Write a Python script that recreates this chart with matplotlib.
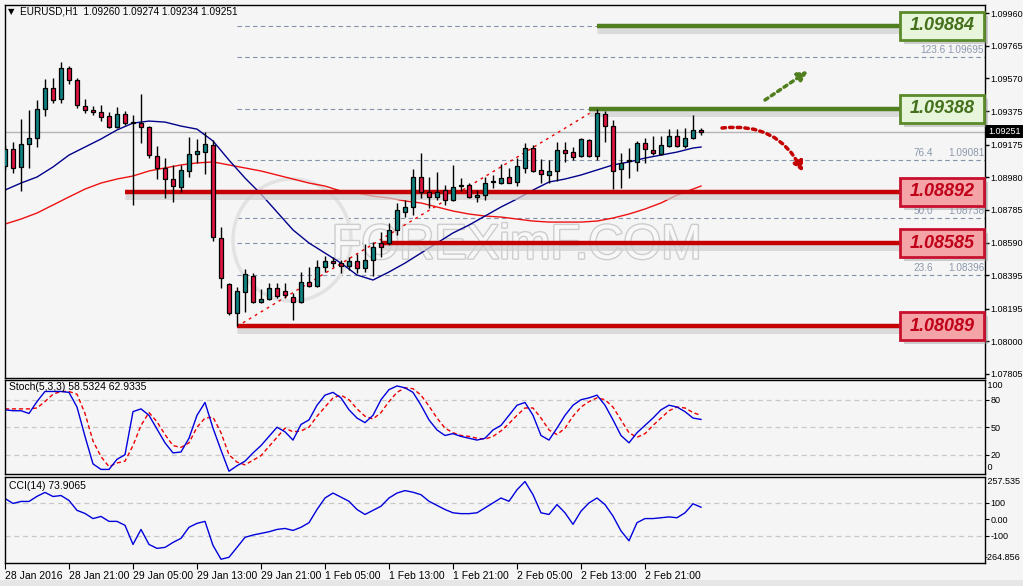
import matplotlib
matplotlib.use('Agg')
import numpy as np
import matplotlib.pyplot as plt
from matplotlib.patches import Rectangle, Ellipse
from matplotlib.transforms import blended_transform_factory
import matplotlib.patheffects as pe

plt.rcParams['font.family'] = ['Liberation Sans', 'DejaVu Sans']

# ---- data ----
opens = [1.09047, 1.09148, 1.09041, 1.09178, 1.09214, 1.09387, 1.09512, 1.09447, 1.09632, 1.09560,
         1.09405, 1.09381, 1.09369, 1.09345, 1.09279, 1.09357, 1.09303, 1.09303, 1.09279, 1.09106,
         1.09035, 1.08969, 1.08921, 1.09017, 1.09118, 1.09130, 1.09172, 1.08617, 1.08342, 1.08169,
         1.08294, 1.08390, 1.08235, 1.08253, 1.08318, 1.08300, 1.08265, 1.08235, 1.08354, 1.08330,
         1.08443, 1.08479, 1.08467, 1.08449, 1.08479, 1.08438, 1.08485, 1.08587, 1.08587, 1.08665,
         1.08772, 1.08802, 1.08981, 1.08891, 1.08862, 1.08903, 1.08844, 1.08927, 1.08933, 1.08862,
         1.08874, 1.08951, 1.08945, 1.08981, 1.08951, 1.09035, 1.09154, 1.09023, 1.08993, 1.09017,
         1.09142, 1.09130, 1.09106, 1.09202, 1.09106, 1.09357, 1.09285, 1.09029, 1.09077, 1.09071,
         1.09184, 1.09142, 1.09118, 1.09166, 1.09226, 1.09166, 1.09214, 1.09260]
highs = [1.09172, 1.09190, 1.09327, 1.09381, 1.09441, 1.09566, 1.09572, 1.09667, 1.09644, 1.09572,
         1.09447, 1.09405, 1.09411, 1.09369, 1.09399, 1.09375, 1.09351, 1.09476, 1.09285, 1.09166,
         1.09094, 1.09053, 1.09053, 1.09220, 1.09208, 1.09250, 1.09202, 1.08682, 1.08348, 1.08324,
         1.08431, 1.08408, 1.08312, 1.08348, 1.08348, 1.08348, 1.08289, 1.08414, 1.08443, 1.08485,
         1.08509, 1.08503, 1.08485, 1.08503, 1.08521, 1.08581, 1.08593, 1.08653, 1.08706, 1.08826,
         1.08844, 1.09029, 1.09124, 1.08981, 1.09011, 1.08933, 1.09053, 1.08975, 1.08945, 1.08903,
         1.08981, 1.08993, 1.09058, 1.09035, 1.09094, 1.09184, 1.09172, 1.09088, 1.09082, 1.09190,
         1.09190, 1.09160, 1.09214, 1.09208, 1.09388, 1.09375, 1.09321, 1.09124, 1.09154, 1.09196,
         1.09214, 1.09226, 1.09226, 1.09267, 1.09267, 1.09273, 1.09351, 1.09274]
lows = [1.09023, 1.09005, 1.08897, 1.09035, 1.09160, 1.09345, 1.09423, 1.09423, 1.09536, 1.09393,
        1.09363, 1.09351, 1.09315, 1.09273, 1.09273, 1.09291, 1.08814, 1.09184, 1.09094, 1.08969,
        1.08856, 1.08832, 1.08891, 1.08981, 1.09065, 1.08999, 1.08599, 1.08318, 1.08157, 1.08089,
        1.08175, 1.08229, 1.08229, 1.08247, 1.08259, 1.08259, 1.08127, 1.08229, 1.08324, 1.08324,
        1.08414, 1.08443, 1.08408, 1.08426, 1.08408, 1.08414, 1.08390, 1.08503, 1.08575, 1.08635,
        1.08742, 1.08754, 1.08856, 1.08796, 1.08844, 1.08814, 1.08838, 1.08897, 1.08856, 1.08832,
        1.08844, 1.08915, 1.08939, 1.08945, 1.08927, 1.09005, 1.09011, 1.08945, 1.08945, 1.08957,
        1.09071, 1.09082, 1.09100, 1.09100, 1.09082, 1.09190, 1.08909, 1.08915, 1.08975, 1.09017,
        1.09065, 1.09112, 1.09112, 1.09160, 1.09160, 1.09154, 1.09208, 1.09234]
closes = [1.09148, 1.09035, 1.09178, 1.09214, 1.09387, 1.09512, 1.09441, 1.09632, 1.09560, 1.09411,
          1.09381, 1.09369, 1.09339, 1.09279, 1.09357, 1.09303, 1.09309, 1.09279, 1.09112, 1.09035,
          1.08969, 1.08927, 1.09023, 1.09118, 1.09136, 1.09178, 1.08623, 1.08378, 1.08169, 1.08300,
          1.08402, 1.08235, 1.08253, 1.08318, 1.08271, 1.08277, 1.08235, 1.08354, 1.08330, 1.08443,
          1.08479, 1.08467, 1.08449, 1.08479, 1.08438, 1.08485, 1.08563, 1.08563, 1.08665, 1.08784,
          1.08802, 1.08981, 1.08891, 1.08862, 1.08891, 1.08844, 1.08921, 1.08929, 1.08862, 1.08874,
          1.08945, 1.08955, 1.08975, 1.08945, 1.09047, 1.09154, 1.09017, 1.08999, 1.09017, 1.09142,
          1.09124, 1.09100, 1.09208, 1.09106, 1.09363, 1.09285, 1.09017, 1.09065, 1.09082, 1.09184,
          1.09148, 1.09124, 1.09172, 1.09226, 1.09166, 1.09214, 1.09262, 1.09251]

ma_bars = list(range(0, 87, 2)) + [87]
ma_fast = [1.08903, 1.08945, 1.08981, 1.09041, 1.09112, 1.09160, 1.09208, 1.09262, 1.09303, 1.09315,
           1.09309, 1.09285, 1.09267, 1.09196, 1.09082, 1.08975, 1.08879, 1.08772, 1.08665, 1.08587,
           1.08527, 1.08467, 1.08396, 1.08366, 1.08414, 1.08467, 1.08527, 1.08587, 1.08647, 1.08694,
           1.08748, 1.08802, 1.08850, 1.08903, 1.08951, 1.08969, 1.08993, 1.09023, 1.09053, 1.09071,
           1.09094, 1.09112, 1.09130, 1.09154, 1.09160]
ma_slow = [1.08700, 1.08730, 1.08766, 1.08814, 1.08862, 1.08909, 1.08945, 1.08969, 1.08987, 1.09017,
           1.09035, 1.09053, 1.09065, 1.09071, 1.09053, 1.09035, 1.09017, 1.08993, 1.08969, 1.08945,
           1.08927, 1.08897, 1.08885, 1.08867, 1.08856, 1.08838, 1.08826, 1.08802, 1.08778, 1.08760,
           1.08748, 1.08742, 1.08730, 1.08718, 1.08712, 1.08712, 1.08712, 1.08718, 1.08736, 1.08760,
           1.08790, 1.08826, 1.08873, 1.08909, 1.08927]

stoch_k = [69, 68, 68, 65, 78, 89, 89, 89, 88, 72, 40, 10, 4, 4, 15, 20, 67, 70, 63, 48,
           33, 22, 23, 38, 63, 77, 49, 25, 2, 8, 13, 22, 30, 40, 50, 45, 36, 53, 58, 74,
           85, 88, 82, 69, 60, 55, 63, 80, 91, 95, 93, 88, 74, 58, 47, 41, 43, 40, 38, 36,
           38, 47, 52, 63, 74, 77, 63, 41, 36, 49, 63, 74, 80, 82, 85, 74, 58, 41, 33, 44,
           52, 60, 69, 74, 72, 67, 60, 58.5]
stoch_d = [70, 70, 70, 70, 71, 78, 86, 89, 89, 86, 65, 35, 18, 7, 11, 13, 30, 52, 66, 56,
           42, 30, 28, 33, 50, 60, 61, 44, 20, 12, 9, 14, 19, 29, 39, 49, 45, 46, 50, 62,
           72, 82, 85, 80, 70, 62, 59, 66, 78, 88, 93, 92, 85, 73, 60, 49, 44, 41, 40, 38,
           37, 40, 46, 54, 63, 71, 71, 60, 47, 42, 49, 62, 72, 78, 82, 80, 72, 58, 44, 39,
           43, 52, 60, 68, 72, 71, 66, 62.9]
cci = [127, 97, 109, 109, 140, 164, 139, 145, 115, 55, 36, 5, 18, -12, -12, -36, -152, -61, -152, -176,
       -170, -140, -115, -48, -24, -12, -158, -242, -230, -170, -109, -95, -85, -75, -61, -55, -67, -48, -20, 60,
       130, 160, 135, 110, 60, 30, 55, 80, 130, 160, 175, 165, 150, 110, 85, 60, 40, 35, 35, 40,
       70, 100, 130, 110, 180, 230, 150, 40, 30, 90, 40, -30, 50, 100, 130, 90, 20, -70, -130, -20,
       5, 5, 10, 15, 10, 40, 95, 74]

fib_pct = [0.0, 23.6, 38.2, 50.0, 61.8, 76.4, 100.0, 123.6, 138.2]
fib_price = [1.08089, 1.08396, 1.08585, 1.08738, 1.08892, 1.09081, 1.09388, 1.09695, 1.09884]
levels = [1.09884, 1.09388, 1.08892, 1.08585, 1.08089]
level_start = [74, 73, 15, 47, 29]
level_kind = ['res', 'res', 'sup', 'sup', 'sup']

price_ticks = [1.09960, 1.09765, 1.09570, 1.09375, 1.09175, 1.08980, 1.08785, 1.08590, 1.08395, 1.08195, 1.08000, 1.07805]
time_bars = [0, 8, 16, 24, 32, 40, 48, 56, 64, 72, 80]
time_labels = ['28 Jan 2016', '28 Jan 21:00', '29 Jan 05:00', '29 Jan 13:00', '29 Jan 21:00',
               '1 Feb 05:00', '1 Feb 13:00', '1 Feb 21:00', '2 Feb 05:00', '2 Feb 13:00', '2 Feb 21:00']
last_price = 1.09251

W, H = 1023, 586
BG = '#f5f5f5'
RS = 6.5  # right-side label size
fig = plt.figure(figsize=(W / 100, H / 100), dpi=100, facecolor=BG)


def rect(x0, y0, x1, y1):
    return [x0 / W, 1 - y1 / H, (x1 - x0) / W, (y1 - y0) / H]


def fx(x):
    return x / W


def fy(y):
    return 1 - y / H


ax = fig.add_axes(rect(5, 5, 985, 378), facecolor=BG)
ax_st = fig.add_axes(rect(5, 380, 985, 474), facecolor=BG, sharex=ax)
ax_cci = fig.add_axes(rect(5, 477, 985, 563), facecolor=BG, sharex=ax)

ax.set_xlim(0, 122.5)
ax.set_ylim(1.07781, 1.10008)
px_price = (1.10008 - 1.07781) / 373.0

n = len(opens)
idx = np.arange(n)
o = np.array(opens); h = np.array(highs); l = np.array(lows); c = np.array(closes)
bull = c >= o

# fib dashed levels (labels under the level boxes are hidden, as in the source)
for pct, fp in zip(fib_pct, fib_price):
    ax.hlines(fp, 29, 122.5, colors='#8491a8', linestyles=(0, (4, 3)), lw=0.8, zorder=1)
    if fp in levels:
        continue
    px_end = 946 if pct >= 100 else 933
    ax.text((px_end - 5) / 8.0, fp + 2 * px_price, '%.1f' % pct, ha='right', va='bottom',
            fontsize=7.2, color='#8c98ad', zorder=1)
    ax.text(122.4, fp + 2 * px_price, '%.5f' % fp, ha='right', va='bottom', fontsize=7.2,
            color='#8c98ad', zorder=1)

# current price line
ax.axhline(last_price, color='#b4b4b4', lw=1, zorder=1)

# watermark
ax.text(fx(517), fy(246), 'FOREXimF.COM', transform=fig.transFigure, ha='center', va='center',
        fontsize=35, color='#f8f8f8', zorder=1.5,
        path_effects=[pe.withStroke(linewidth=2.0, foreground='#cdcdcd')])
ax.add_patch(Ellipse((fx(292), fy(240)), 118 / W, 122 / H, transform=fig.transFigure,
                     fill=False, ec='#e2e2e2', lw=2.5, zorder=1.4))

# moving averages
ax.plot(ma_bars, ma_slow, color='#ee1111', lw=1, zorder=2)
ax.plot(ma_bars, ma_fast, color='#00008b', lw=1, zorder=2)

# fib trend line
ax.plot([29, 74], [fib_price[0], fib_price[6]], color='#ee0000', ls=(0, (2, 3)), lw=1, zorder=2)

# level lines with soft shadow
for lv, st, kind in zip(levels, level_start, level_kind):
    col = '#4f7f1f' if kind == 'res' else '#c40000'
    ax.hlines(lv - 4 * px_price, st, 112, colors='#cfcfcf', lw=5, alpha=0.7, zorder=2.2)
    ax.hlines(lv, st, 112, colors=col, lw=3.2, zorder=2.5)

# candles
ax.vlines(idx, l, h, color='black', lw=1, zorder=3)
body = np.maximum(np.abs(c - o), 0.6 * px_price)
ax.bar(idx, body, bottom=np.minimum(o, c), width=0.62,
       color=np.where(bull, '#108080', '#dc143c'), edgecolor='black', lw=0.9, zorder=4)

# level boxes
bt = blended_transform_factory(ax.transAxes, ax.transData)
bx0 = (900 - 5) / 980.0
bw = 84 / 980.0
hh = 14 * px_price
for lv, kind in zip(levels, level_kind):
    if kind == 'res':
        fc, ec, tc = '#e7f5da', '#5a8a2a', '#44701c'
    else:
        fc, ec, tc = '#f4a3a6', '#c8102e', '#c00018'
    ax.add_patch(Rectangle((bx0 + 4 / 980, lv - hh - 4 * px_price), bw, 2 * hh, transform=bt,
                           fc='#9a9a9a', ec='none', alpha=0.45, zorder=5, clip_on=False))
    ax.add_patch(Rectangle((bx0, lv - hh), bw, 2 * hh, transform=bt,
                           fc=fc, ec=ec, lw=2, zorder=6, clip_on=False))
    ax.text(bx0 + bw / 2, lv, '%.5f' % lv, transform=bt, ha='center', va='center',
            fontsize=13, fontweight='bold', fontstyle='italic', color=tc, zorder=7, clip_on=False)

# arrows
ax.annotate('', xy=(fx(808), fy(71)), xytext=(fx(765), fy(100)), xycoords=fig.transFigure,
            arrowprops=dict(arrowstyle='-|>', color='#4f7f1f', lw=2.5, ls=(0, (1, 1.2)),
                            mutation_scale=14, shrinkA=0, shrinkB=0), zorder=8)
ax.annotate('', xy=(fx(803), fy(172)), xytext=(fx(722), fy(128)), xycoords=fig.transFigure,
            arrowprops=dict(arrowstyle='-|>', color='#c40000', lw=2.5, ls=(0, (1, 1.2)),
                            mutation_scale=14, shrinkA=0, shrinkB=0,
                            connectionstyle='arc3,rad=-0.35'), zorder=8)

# right price axis
ax.yaxis.tick_right()
ax.set_yticks(price_ticks)
ax.set_yticklabels(['%.5f' % t for t in price_ticks])
ax.tick_params(axis='y', direction='out', length=3, width=1, pad=1, labelsize=RS, colors='black')
ax.tick_params(axis='x', bottom=False, labelbottom=False)

fig.patches.append(Rectangle((fx(986), fy(138)), 40 / W, 13 / H, transform=fig.transFigure,
                             fc='black', ec='none', zorder=10))
fig.text(fx(988), fy(131.5), '%.5f' % last_price, color='white', fontsize=RS, va='center', ha='left', zorder=11)

fig.text(fx(8), fy(12), '\u25bc', fontsize=6, va='center', ha='left', family='DejaVu Sans')
fig.text(fx(20), fy(12), 'EURUSD,H1  %.5f %.5f %.5f %.5f' % (opens[-1], highs[-1], lows[-1], closes[-1]),
         fontsize=7.2, va='center', ha='left')

# stochastic
ax_st.set_ylim(-1, 101.5)
for lv in (80, 50, 20):
    ax_st.axhline(lv, color='#c8c8c8', ls=(0, (4, 3)), lw=0.9)
ax_st.plot(idx, stoch_d, color='#ee0000', ls=(0, (3, 2)), lw=1)
ax_st.plot(idx, stoch_k, color='#0000dd', lw=1)
ax_st.yaxis.tick_right()
ax_st.set_yticks([80, 50, 20])
ax_st.tick_params(axis='y', direction='out', length=3, pad=1, labelsize=RS)
ax_st.tick_params(axis='x', bottom=False, labelbottom=False)
ax_st.text(1.0, 0.94, ' 100', transform=ax_st.transAxes, fontsize=RS, va='center', ha='left')
ax_st.text(1.0, 0.07, ' 0', transform=ax_st.transAxes, fontsize=RS, va='center', ha='left')
ax_st.text(0.004, 0.93, 'Stoch(5,3,3) %.4f %.4f' % (58.5324, 62.9335), transform=ax_st.transAxes,
           fontsize=7.5, va='center', ha='left')

# CCI
ax_cci.set_ylim(-264.856, 257.535)
for lv in (100, -100):
    ax_cci.axhline(lv, color='#c8c8c8', ls=(0, (4, 3)), lw=0.9)
ax_cci.plot(idx, cci, color='#0000dd', lw=1)
ax_cci.yaxis.tick_right()
ax_cci.set_yticks([100, 0, -100])
ax_cci.set_yticklabels(['100', '0.00', '-100'])
ax_cci.tick_params(axis='y', direction='out', length=3, pad=1, labelsize=RS)
ax_cci.text(1.0, 0.95, ' 257.535', transform=ax_cci.transAxes, fontsize=RS, va='center', ha='left')
ax_cci.text(1.0, 0.06, '-264.856', transform=ax_cci.transAxes, fontsize=RS, va='center', ha='left')
ax_cci.text(0.004, 0.9, 'CCI(14) %.4f' % 73.9065, transform=ax_cci.transAxes,
            fontsize=7.5, va='center', ha='left')

ax_cci.set_xticks(time_bars)
ax_cci.set_xticklabels(time_labels, ha='left')
ax_cci.tick_params(axis='x', direction='out', length=4, pad=2, labelsize=7.5)

for a in (ax, ax_st, ax_cci):
    for s in a.spines.values():
        s.set_color('black')
        s.set_linewidth(1)

fig.patches.append(Rectangle((0, 0), 1, 6 / H, transform=fig.transFigure, fc='#e6e6e6', ec='none'))

fig.savefig('out.png', dpi=100, facecolor=BG)
